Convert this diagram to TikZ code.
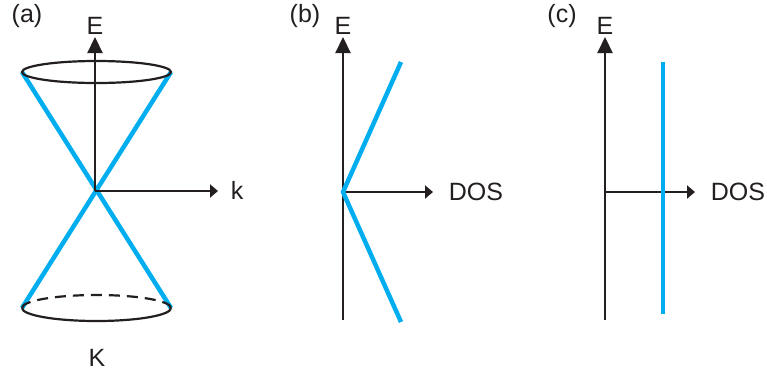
\documentclass[tikz,border=0pt]{standalone}
\usepackage{fontspec}
\setmainfont{Liberation Sans}
\usetikzlibrary{arrows.meta}
\definecolor{dirac}{RGB}{0,174,239}
\definecolor{inkgray}{RGB}{35,31,32}
\begin{document}
\begin{tikzpicture}[x=1pt,y=-1pt,
    axis/.style={inkgray,line width=2.2pt},
    vtip/.style={-{Triangle[length=16pt,width=15pt]}},
    htip/.style={-{Triangle[length=8pt,width=13pt]}},
    band/.style={dirac,line width=4.5pt},
    lbl/.style={font=\fontsize{25}{29}\selectfont,text=inkgray,inner sep=0pt}]
    \useasboundingbox (0,0) rectangle (767,376);
    % (a) cone
    \coordinate (ao) at (95,191);
    \coordinate (aE) at (95,37);
    \coordinate (ak) at (218,191);
    \coordinate (atl) at (22,72);
    \coordinate (atr) at (171,72);
    \coordinate (abl) at (22,308);
    \coordinate (abr) at (171,308);
    \draw[band] (atl) -- (abr);
    \draw[band] (atr) -- (abl);
    \draw[axis] (96.5,72) ellipse [x radius=74.5pt,y radius=11pt];
    \draw[axis] (abl) arc[start angle=180,end angle=360,x radius=74.5pt,y radius=13pt];
    \draw[axis,dash pattern=on 11pt off 7pt] (abr) arc[start angle=0,end angle=180,x radius=74.5pt,y radius=13pt];
    \draw[axis,vtip] (ao) -- (aE);
    \draw[axis,htip] (ao) -- (ak);
    \node[lbl] (alab) at (27,16) {(a)};
    \node[lbl] (aElab) at (95,26) {E};
    \node[lbl] (aklab) at (237,190) {k};
    \node[lbl] (aKlab) at (97,358) {K};
    % (b) linear DOS
    \coordinate (bo) at (343,192);
    \coordinate (bE) at (343,37);
    \coordinate (bbot) at (343,320);
    \coordinate (bd) at (433,192);
    \coordinate (bup) at (401,62);
    \coordinate (bdn) at (401,322);
    \draw[axis,vtip] (bbot) -- (bE);
    \draw[axis,htip] (bo) -- (bd);
    \draw[band] (bup) -- (bo) -- (bdn);
    \node[lbl] (blab) at (305,16) {(b)};
    \node[lbl] (bElab) at (343,26) {E};
    \node[lbl] (bdlab) at (476,192) {DOS};
    % (c) constant DOS
    \coordinate (co) at (605,192);
    \coordinate (cE) at (605,37);
    \coordinate (cbot) at (605,320);
    \coordinate (cd) at (695,192);
    \coordinate (cup) at (663,62);
    \coordinate (cdn) at (663,314);
    \draw[axis,vtip] (cbot) -- (cE);
    \draw[axis,htip] (co) -- (cd);
    \draw[band] (cup) -- (cdn);
    \node[lbl] (clab) at (562,16) {(c)};
    \node[lbl] (cElab) at (605,26) {E};
    \node[lbl] (cdlab) at (738,192) {DOS};
\end{tikzpicture}
\end{document}
